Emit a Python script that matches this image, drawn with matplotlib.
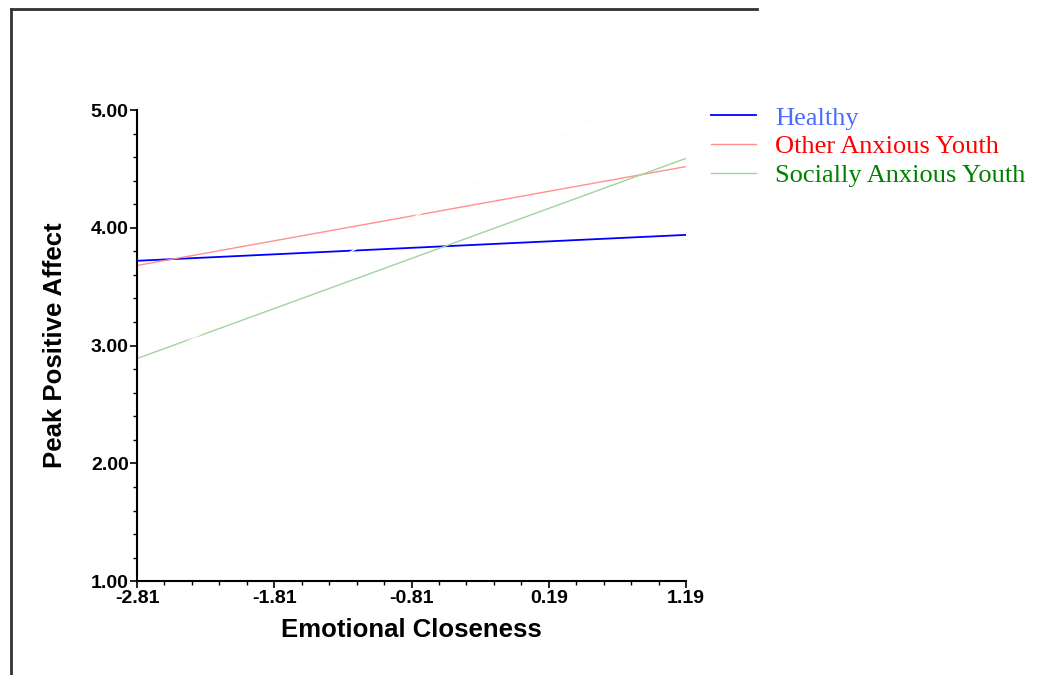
import numpy as np
import matplotlib
matplotlib.use("Agg")
import matplotlib.pyplot as plt
from matplotlib.lines import Line2D
from matplotlib.ticker import MultipleLocator, FixedLocator

# simple slopes: value at low / high emotional closeness
x_ends = [-2.81, 1.19]
healthy = [3.72, 3.94]
other_anx = [3.68, 4.52]
social_anx = [2.89, 4.59]
extra = [2.80, 5.36]   # faint fourth line, runs off the top

x_ticks = [-2.81, -1.81, -0.81, 0.19, 1.19]
y_ticks = [1, 2, 3, 4, 5]
labels = ["Healthy", "Other Anxious Youth", "Socially Anxious Youth", ""]
label_colors = ["#4a6cff", "#ff0000", "#008000", "#ffffff"]

fig = plt.figure(figsize=(10.38, 6.75), dpi=100)
ax = fig.add_axes([0.132, 0.139, 0.529, 0.698])

l1, = ax.plot(x_ends, healthy, color="#0000ff", lw=1.3)
l2, = ax.plot(x_ends, other_anx, color="#ff9090", lw=1.0)
l3, = ax.plot(x_ends, social_anx, color="#9fd49f", lw=1.0)
l4, = ax.plot(x_ends, extra, color="#fdfdf2", lw=1.0)

ax.set_xlim(-2.81, 1.19)
ax.set_ylim(1, 5)
ax.xaxis.set_major_locator(FixedLocator(x_ticks))
ax.xaxis.set_minor_locator(FixedLocator(np.arange(-2.81, 1.20, 0.2)))
ax.yaxis.set_major_locator(FixedLocator(y_ticks))
ax.yaxis.set_minor_locator(MultipleLocator(0.2))
ax.set_xticklabels(["%.2f" % v for v in x_ticks])
ax.set_yticklabels(["%.2f" % v for v in y_ticks])

for s in ["top", "right"]:
    ax.spines[s].set_visible(False)
for s in ["left", "bottom"]:
    ax.spines[s].set_linewidth(1.5)

ax.tick_params(which="major", direction="out", length=5, width=1.2, pad=1)
ax.tick_params(which="minor", direction="out", length=3, width=1.0)
for lab in ax.get_xticklabels() + ax.get_yticklabels():
    lab.set_fontfamily("Liberation Sans")
    lab.set_fontweight("bold")
    lab.set_fontsize(14)

ax.set_xlabel("Emotional Closeness", fontfamily="Liberation Sans", fontweight="bold",
              fontsize=18.5, labelpad=8)
ax.set_ylabel("Peak Positive Affect", fontfamily="Liberation Sans", fontweight="bold",
              fontsize=18.5, labelpad=17)

leg = ax.legend([l1, l2, l3, l4], labels, loc="upper left",
                bbox_to_anchor=(1.045, 1.008), frameon=False, borderpad=0,
                borderaxespad=0, handlelength=1.7, handletextpad=0.75,
                labelspacing=0.2,
                prop={"family": "Liberation Serif", "size": 19})
for t, c in zip(leg.get_texts(), label_colors):
    t.set_color(c)

# outer frame (top and left edges)
fig.add_artist(Line2D([11 / 1038, 757 / 1038], [1 - 9 / 675, 1 - 9 / 675],
                      color="#333333", lw=2))
fig.add_artist(Line2D([11 / 1038, 11 / 1038], [1 - 9 / 675, 0],
                      color="#333333", lw=2))

fig.savefig("out.png", dpi=100)
